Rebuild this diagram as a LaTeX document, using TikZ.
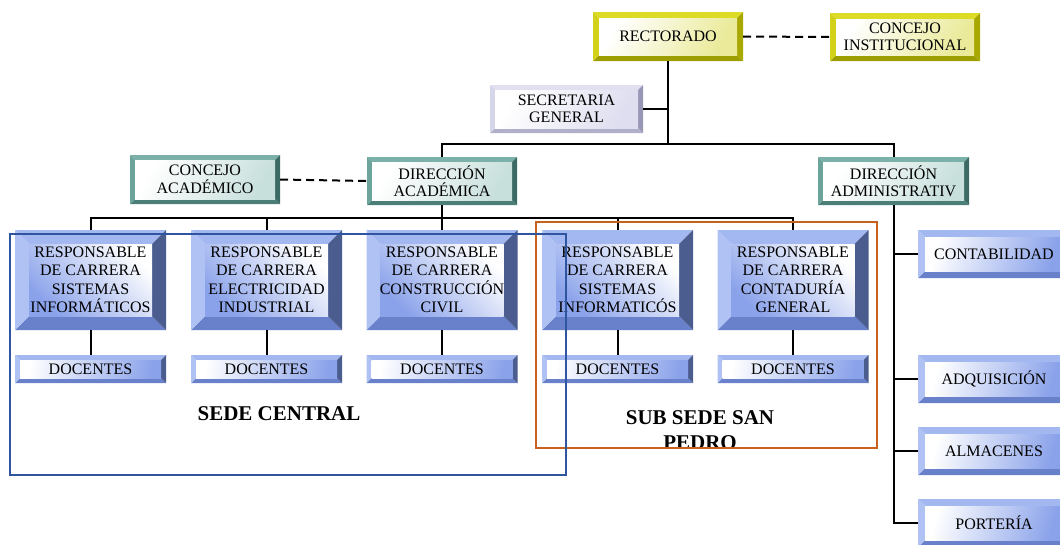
\documentclass[tikz,border=0pt]{standalone}
\usepackage{fontspec}
\setmainfont{Liberation Serif}
\usetikzlibrary{calc}

% bevel colours
\definecolor{ylTop}{HTML}{DCDC26}
\definecolor{ylLeft}{HTML}{D2D21A}
\definecolor{ylRight}{HTML}{A8A800}
\definecolor{ylBot}{HTML}{9E9E00}
\definecolor{ylFace}{HTML}{EAEA9A}
\definecolor{tlTop}{HTML}{7CB1A9}
\definecolor{tlLeft}{HTML}{6CA39A}
\definecolor{tlRight}{HTML}{3C6A64}
\definecolor{tlBot}{HTML}{4C7E78}
\definecolor{tlFace}{HTML}{C8E0DC}
\definecolor{lvTop}{HTML}{E0E0F0}
\definecolor{lvLeft}{HTML}{D6D6EA}
\definecolor{lvRight}{HTML}{9898B6}
\definecolor{lvBot}{HTML}{B0B0CA}
\definecolor{lvFace}{HTML}{DEDEF0}
\definecolor{blTop}{HTML}{A3B8F0}
\definecolor{blLeft}{HTML}{B0C2F3}
\definecolor{blRight}{HTML}{4B5C8F}
\definecolor{blBot}{HTML}{6881CA}
\definecolor{blFace}{HTML}{8AA2EA}
\definecolor{sedeBlue}{HTML}{2F55A0}
\definecolor{sedeOrange}{HTML}{C8601E}

\newcommand\orgfont{\fontsize{16}{17.5}\selectfont}
\newcommand\orgfontR{\fontsize{16}{18.5}\selectfont}
\newcommand\sedefont{\bfseries\fontsize{21}{25}\selectfont}

\tikzset{
  bw/.store in=\bevW,
  btop/.store in=\bevTop,
  bleft/.store in=\bevLeft,
  bright/.store in=\bevRight,
  bbot/.store in=\bevBot,
  bface/.store in=\bevFace,
  bang/.store in=\bevAng,
  bevelbox/.style={
    rectangle, inner sep=0pt, align=center, font=\orgfont, fill=white,
    path picture={
      \path (path picture bounding box.south west) coordinate (bsw)
            (path picture bounding box.north east) coordinate (bne);
      \path (bsw |- bne) coordinate (bnw) (bne |- bsw) coordinate (bse);
      \path ($(bsw)+(\bevW,\bevW)$) coordinate (isw)
            ($(bne)+(-\bevW,-\bevW)$) coordinate (ine);
      \path (isw |- ine) coordinate (inw) (ine |- isw) coordinate (ise);
      \fill[\bevTop] (bnw) -- (bne) -- (ine) -- (inw) -- cycle;
      \fill[\bevBot] (bsw) -- (bse) -- (ise) -- (isw) -- cycle;
      \fill[\bevLeft] (bsw) -- (bnw) -- (inw) -- (isw) -- cycle;
      \fill[\bevRight] (bse) -- (bne) -- (ine) -- (ise) -- cycle;
      \shade[top color=white, bottom color=\bevFace, shading angle=\bevAng]
        (isw) rectangle (ine);
    }
  },
  yellowbox/.style={bevelbox, bw=6pt, btop=ylTop, bleft=ylLeft, bright=ylRight,
    bbot=ylBot, bface=ylFace, bang=60, minimum width=150pt, minimum height=49pt},
  tealbox/.style={bevelbox, bw=5pt, btop=tlTop, bleft=tlLeft, bright=tlRight,
    bbot=tlBot, bface=tlFace, bang=60, minimum width=150pt, minimum height=48pt},
  lavbox/.style={bevelbox, bw=5pt, btop=lvTop, bleft=lvLeft, bright=lvRight,
    bbot=lvBot, bface=lvFace, bang=60, minimum width=153pt, minimum height=48pt},
  respbox/.style={bevelbox, font=\orgfontR, bw=14pt, btop=blTop, bleft=blLeft,
    bright=blRight, bbot=blBot, bface=blFace, bang=-45,
    minimum width=151pt, minimum height=100pt},
  docbox/.style={bevelbox, bw=5pt, btop=blTop, bleft=blLeft, bright=blRight,
    bbot=blBot, bface=blFace, bang=80, minimum width=151pt, minimum height=28pt},
  admbox/.style={bevelbox, bw=7pt, btop=blTop, bleft=blLeft, bright=blRight,
    bbot=blBot, bface=blFace, bang=75, minimum width=152pt, minimum height=48pt},
  conn/.style={line width=2pt, black},
  dashconn/.style={line width=2pt, black, dash pattern=on 8pt off 5pt},
  region/.style={line width=2.5pt},
}

\begin{document}
\begin{tikzpicture}[x=1pt,y=-1pt]
\useasboundingbox (0,0) rectangle (1060,544);
\clip (0,0) rectangle (1060,544);

% top level
\node[yellowbox] (rect) at (668,36.5) {RECTORADO};
\node[yellowbox, minimum height=48pt] (cinst) at (905,37) {CONCEJO\\INSTITUCIONAL};
\node[lavbox] (secr) at (566.5,109) {SECRETARIA\\GENERAL};

% directions
\node[tealbox] (dacad) at (442,181) {DIRECCIÓN\\ACADÉMICA};
\node[tealbox, minimum height=49pt] (cacad) at (205,179.5) {CONCEJO\\ACADÉMICO};
\node[tealbox, minimum width=151pt] (dadm) at (893.5,181) {DIRECCIÓN\\ADMINISTRATIV};

% programme heads
\node[respbox] (r1) at (90.5,280) {RESPONSABLE\\DE CARRERA\\SISTEMAS\\INFORMÁTICOS};
\node[respbox] (r2) at (266.5,280) {RESPONSABLE\\DE CARRERA\\ELECTRICIDAD\\INDUSTRIAL};
\node[respbox] (r3) at (442,280) {RESPONSABLE\\DE CARRERA\\CONSTRUCCIÓN\\CIVIL};
\node[respbox] (r4) at (617.5,280) {RESPONSABLE\\DE CARRERA\\SISTEMAS\\INFORMATICÓS};
\node[respbox] (r5) at (793,280) {RESPONSABLE\\DE CARRERA\\CONTADURÍA\\GENERAL};

% teaching staff
\foreach \i in {1,...,5}{
  \node[docbox] (d\i) at (r\i |- 0,369) {DOCENTES};
}

% administrative units
\node[admbox] (cont) at (994,254) {CONTABILIDAD};
\node[admbox] (adq) at (994,379) {ADQUISICIÓN};
\node[admbox] (alm) at (994,451) {ALMACENES};
\node[admbox] (port) at (994,523) {PORTERÍA};

% connectors
\coordinate (hubtop) at (668,144);
\coordinate (hubacad) at (442,218);
\draw[conn] (rect.south) -- (hubtop);
\draw[conn] (dacad.north) |- (hubtop) -| (dadm.north);
\draw[conn] (secr.east) -- (secr.east -| hubtop);
\draw[dashconn] (rect.east) -- (cinst.west);
\draw[dashconn] (cacad.east) -- (dacad.west);

\draw[conn] (dacad.south) -- (r3.north);
\draw[conn] (r1.north) |- (hubacad) -| (r5.north);
\draw[conn] (r2.north) -- (r2.north |- hubacad);
\draw[conn] (r4.north) -- (r4.north |- hubacad);
\foreach \i in {1,...,5}{
  \draw[conn] (r\i.south) -- (d\i.north);
}

\draw[conn] (dadm.south) |- (port.west);
\draw[conn] (cont.west) -- (cont.west -| dadm.south);
\draw[conn] (adq.west) -- (adq.west -| dadm.south);
\draw[conn] (alm.west) -- (alm.west -| dadm.south);

% campus groupings
\draw[region, draw=sedeOrange] (536,222) rectangle (877,448);
\begin{scope}
  \clip (537,223) rectangle (876,446.5);
  \node[font=\sedefont, align=center, inner sep=0pt, anchor=north] (subsede)
    at (700,410.5) {SUB SEDE SAN\\PEDRO};
\end{scope}
\draw[region, draw=sedeBlue] (10,234) rectangle (566,475);
\node[font=\sedefont, inner sep=0pt] (central) at (279,414) {SEDE CENTRAL};
\end{tikzpicture}
\end{document}
